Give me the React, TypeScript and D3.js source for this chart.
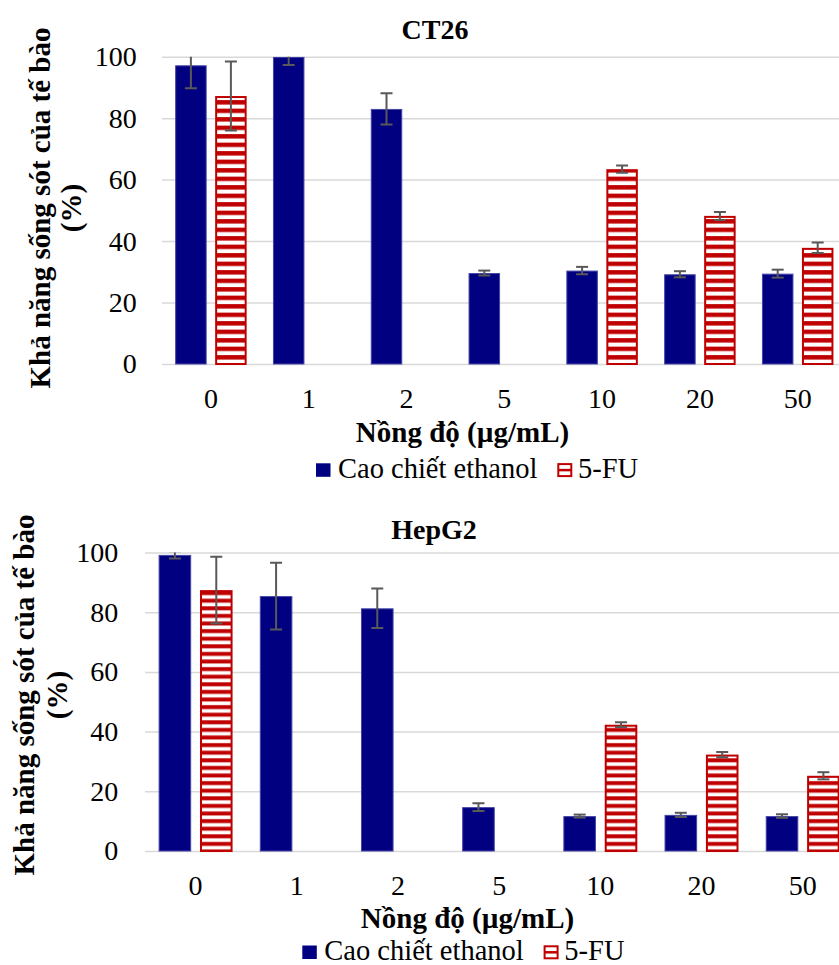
import React, { useEffect, useRef } from "react";
import * as d3 from "d3";

// categories and series
const concentrations = ["0", "1", "2", "5", "10", "20", "50"];
const seriesNames = ["Cao chiết ethanol", "5-FU"];
const yTicks = [0, 20, 40, 60, 80, 100];

// CT26 values (null = no bar)
const ct26Extract = [97.2, 100, 83.0, 29.6, 30.4, 29.2, 29.4];
const ct26ExtractErr = [7.5, 2.7, 5.1, 0.8, 1.2, 1.0, 1.3];
const ct26FU = [87.2, null, null, null, 63.4, 48.2, 37.8];
const ct26FUErr = [11.2, null, null, null, 1.2, 1.3, 1.7];

// HepG2 values
const hepg2Extract = [99.2, 85.4, 81.3, 14.7, 11.7, 12.1, 11.7];
const hepg2ExtractErr = [1.2, 11.2, 6.6, 1.3, 0.5, 0.7, 0.6];
const hepg2FU = [87.4, null, null, null, 42.3, 32.3, 25.2];
const hepg2FUErr = [11.2, null, null, null, 0.8, 0.9, 1.2];

const FONT = "Liberation Serif, DejaVu Serif, serif";
const NAVY = "#000080";
const RED = "#c00000";

// layout for each panel
const panels = [
  {
    id: "ct26", title: "CT26", extract: ct26Extract, extractErr: ct26ExtractErr, fu: ct26FU, fuErr: ct26FUErr,
    left: 162, right: 846.6, top: 56.7, bottom: 364, tickGap: 25.3,
    titleX: 435, titleY: 39, yTitleX: 50, yTitleGap: 31, yTitleY: 208,
    xTitleX: 462.5, xTitleY: 442, legendX: 316, legendY: 463.3, stripe: 8.5
  },
  {
    id: "hepg2", title: "HepG2", extract: hepg2Extract, extractErr: hepg2ExtractErr, fu: hepg2FU, fuErr: hepg2FUErr,
    left: 145, right: 853.3, top: 552.5, bottom: 851, tickGap: 26.7,
    titleX: 434, titleY: 539, yTitleX: 33.5, yTitleGap: 33, yTitleY: 695,
    xTitleX: 467.5, xTitleY: 928, legendX: 302.3, legendY: 945.5, stripe: 7.6
  }
];

function drawPanel(svg, defs, p) {
  // hatch pattern for 5-FU
  const pat = defs.append("pattern")
    .attr("id", "hatch-" + p.id)
    .attr("patternUnits", "userSpaceOnUse")
    .attr("width", 8).attr("height", p.stripe);
  pat.append("rect").attr("width", 8).attr("height", p.stripe).attr("fill", RED);
  pat.append("rect").attr("y", p.stripe * 0.3).attr("width", 8).attr("height", p.stripe * 0.48).attr("fill", "#fff");

  defs.append("clipPath").attr("id", "clip-" + p.id)
    .append("rect")
    .attr("x", p.left).attr("y", p.top)
    .attr("width", p.right - p.left).attr("height", p.bottom - p.top + 2);

  const x0 = d3.scaleBand().domain(concentrations).range([p.left, p.right]).padding(0);
  const bw = x0.bandwidth();
  const x1 = d3.scaleBand().domain(seriesNames)
    .range([bw * 0.1345, bw * (1 - 0.1345)])
    .paddingInner(0.2125);
  const y = d3.scaleLinear().domain([0, 100]).range([p.bottom, p.top]);

  // y axis with gridlines
  const yAxis = svg.append("g")
    .attr("transform", `translate(${p.left},0)`)
    .call(d3.axisLeft(y).tickValues(yTicks).tickSize(-(p.right - p.left)).tickPadding(p.tickGap));
  yAxis.attr("font-family", null).attr("font-size", null);
  yAxis.select(".domain").remove();
  yAxis.selectAll(".tick line").attr("stroke", "#d9d9d9").attr("stroke-width", 1.5);
  yAxis.selectAll(".tick text")
    .style("font-family", FONT).style("font-size", "28px").attr("fill", "#000");

  // x tick labels
  const xAxis = svg.append("g")
    .attr("transform", `translate(0,${p.bottom})`)
    .call(d3.axisBottom(x0).tickSize(0));
  xAxis.attr("font-family", null).attr("font-size", null);
  xAxis.select(".domain").remove();
  xAxis.selectAll(".tick text")
    .style("font-family", FONT).style("font-size", "28px").attr("fill", "#000")
    .attr("dy", 0).attr("y", 44);

  const rows = concentrations.map((c, i) => ({
    c,
    vals: [
      { s: seriesNames[0], v: p.extract[i], e: p.extractErr[i] },
      { s: seriesNames[1], v: p.fu[i], e: p.fuErr[i] }
    ].filter(d => d.v != null)
  }));

  const plot = svg.append("g").attr("clip-path", `url(#clip-${p.id})`);
  const groups = plot.selectAll("g.grp")
    .data(rows)
    .join("g")
    .attr("class", "grp")
    .attr("transform", d => `translate(${x0(d.c)},0)`);

  groups.selectAll("rect")
    .data(d => d.vals)
    .join("rect")
    .attr("x", d => x1(d.s) + (d.s === seriesNames[1] ? 1 : 0.5))
    .attr("y", d => y(d.v) + (d.s === seriesNames[1] ? 1 : 0.5))
    .attr("width", d => x1.bandwidth() - (d.s === seriesNames[1] ? 2 : 1))
    .attr("height", d => y(0) - y(d.v) - (d.s === seriesNames[1] ? 1 : 0.5))
    .attr("fill", d => d.s === seriesNames[0] ? NAVY : `url(#hatch-${p.id})`)
    .attr("stroke", d => d.s === seriesNames[0] ? "#4646a6" : RED)
    .attr("stroke-width", d => d.s === seriesNames[0] ? 1 : 2);

  // error bars
  const err = groups.selectAll("g.err")
    .data(d => d.vals)
    .join("g")
    .attr("class", "err")
    .attr("stroke", "#595959")
    .attr("stroke-width", 2);
  const cx = d => x1(d.s) + x1.bandwidth() / 2;
  err.append("line")
    .attr("x1", cx).attr("x2", cx)
    .attr("y1", d => y(d.v + d.e)).attr("y2", d => y(d.v - d.e));
  err.append("line")
    .attr("x1", d => cx(d) - 6).attr("x2", d => cx(d) + 6)
    .attr("y1", d => y(d.v + d.e)).attr("y2", d => y(d.v + d.e));
  err.append("line")
    .attr("x1", d => cx(d) - 6).attr("x2", d => cx(d) + 6)
    .attr("y1", d => y(d.v - d.e)).attr("y2", d => y(d.v - d.e));

  // chart title
  svg.append("text")
    .attr("x", p.titleX).attr("y", p.titleY)
    .attr("text-anchor", "middle")
    .style("font-family", FONT).style("font-size", "28px").style("font-weight", "bold")
    .text(p.title);

  // y title, two lines
  const yt = svg.append("text")
    .attr("transform", `translate(${p.yTitleX},${p.yTitleY}) rotate(-90)`)
    .attr("text-anchor", "middle")
    .style("font-family", FONT).style("font-size", "29px").style("font-weight", "bold");
  yt.append("tspan").attr("x", 0).attr("y", 0).text("Khả năng sống sót của tế bào");
  yt.append("tspan").attr("x", 0).attr("y", p.yTitleGap).text("(%)");

  // x title
  svg.append("text")
    .attr("x", p.xTitleX).attr("y", p.xTitleY)
    .attr("text-anchor", "middle")
    .style("font-family", FONT).style("font-size", "29px").style("font-weight", "bold")
    .text("Nồng độ (µg/mL)");

  // legend
  const lg = svg.append("g").attr("transform", `translate(${p.legendX},${p.legendY})`);
  lg.append("rect").attr("width", 14.5).attr("height", 13.5).attr("fill", NAVY);
  lg.append("text").attr("x", 22).attr("y", 14.5)
    .style("font-family", FONT).style("font-size", "28.5px")
    .text(seriesNames[0]);
  lg.append("rect").attr("x", 242.3).attr("y", 0.8).attr("width", 13).attr("height", 12)
    .attr("fill", "#fff").attr("stroke", RED).attr("stroke-width", 2);
  lg.append("line").attr("x1", 242.3).attr("x2", 255.3).attr("y1", 6.8).attr("y2", 6.8)
    .attr("stroke", RED).attr("stroke-width", 2.5);
  lg.append("text").attr("x", 262).attr("y", 14.5)
    .style("font-family", FONT).style("font-size", "28.5px")
    .text(seriesNames[1]);
}

export default function App() {
  const ref = useRef(null);

  useEffect(() => {
    document.body.style.margin = "0";
    document.body.style.overflow = "hidden";
    const svg = d3.select(ref.current);
    svg.selectAll("*").remove();
    const defs = svg.append("defs");
    panels.forEach(p => drawPanel(svg, defs, p));
  }, []);

  return <svg ref={ref} width={839} height={965} style={{ display: "block", background: "#fff" }} />;
}
